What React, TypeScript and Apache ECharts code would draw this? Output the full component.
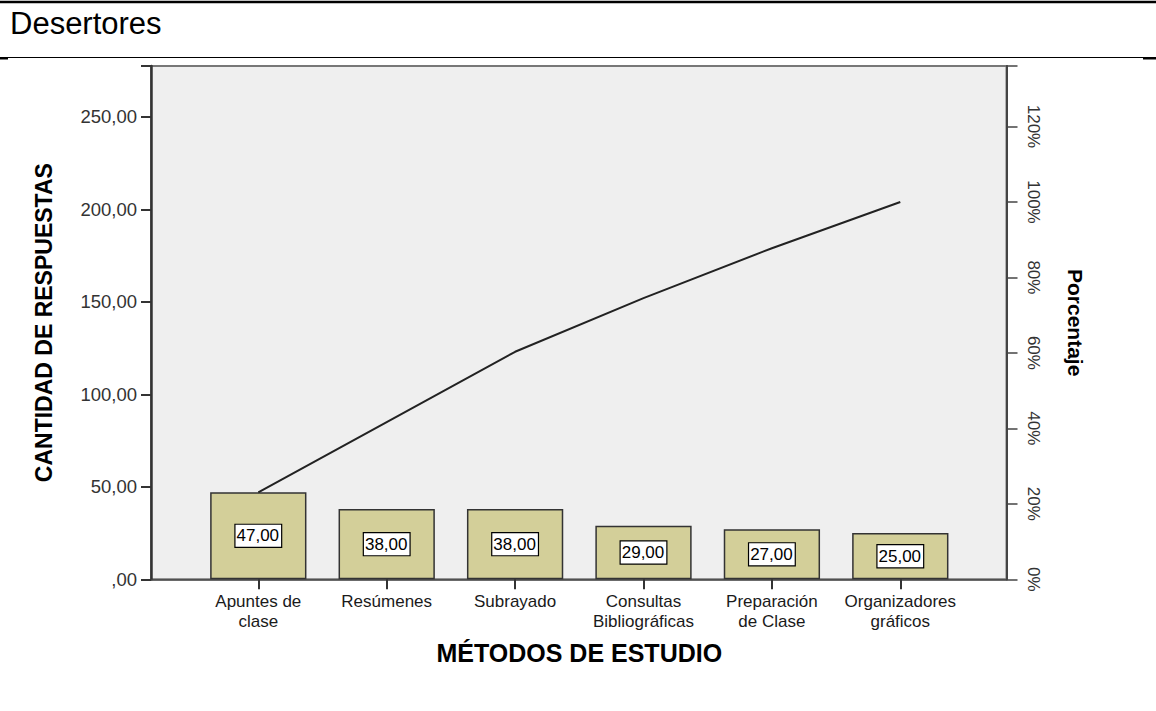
import React, { useEffect, useRef } from "react";
import * as echarts from "echarts";

const title = "Desertores";
const categories = [
  "Apuntes de\nclase",
  "Resúmenes",
  "Subrayado",
  "Consultas\nBibliográficas",
  "Preparación\nde Clase",
  "Organizadores\ngráficos",
];
const counts = [47, 38, 38, 29, 27, 25];
const countTicks = [0, 50, 100, 150, 200, 250];
const pctTicks = [0, 20, 40, 60, 80, 100, 120];
const countMax = 277.5;
const yName = "CANTIDAD DE RESPUESTAS";
const y2Name = "Porcentaje";
const xName = "MÉTODOS DE ESTUDIO";

const total = counts.reduce((a, b) => a + b, 0);
const cumulative: number[] = [];
counts.reduce((acc, v) => {
  const s = acc + v;
  cumulative.push(s);
  return s;
}, 0);
const pctMax = (countMax / total) * 100;

const fmt = (v: number) => {
  const s = v.toFixed(2).replace(".", ",");
  return s.startsWith("0,") ? s.slice(1) : s;
};

const FONT = "Liberation Sans, Arial, sans-serif";

export default function App() {
  const ref = useRef<HTMLDivElement>(null);
  useEffect(() => {
    if (!ref.current) return;
    const chart = echarts.init(ref.current, null, { renderer: "svg" });
    const gridTop = 66;
    const gridBottom = 711 - 579.3;
    chart.setOption({
      animation: false,
      backgroundColor: "#ffffff",
      textStyle: { fontFamily: FONT },
      grid: [
        {
          left: 151,
          right: 1156 - 1006.5,
          top: gridTop,
          bottom: gridBottom,
          show: true,
          backgroundColor: "#efefef",
          borderColor: "#777777",
          borderWidth: 2,
          containLabel: false,
        },
        {
          left: 194.1,
          right: 1156 - 964.5,
          top: gridTop,
          bottom: gridBottom,
          containLabel: false,
        },
      ],
      xAxis: [
        {
          type: "value",
          gridIndex: 0,
          min: 0,
          max: 1,
          axisLine: { show: true, lineStyle: { color: "#444", width: 1.5 } },
          axisTick: { show: false },
          axisLabel: { show: false },
          splitLine: { show: false },
        },
        {
          type: "category",
          gridIndex: 1,
          data: categories,
          boundaryGap: true,
          axisLine: { show: false },
          axisTick: {
            show: true,
            alignWithLabel: true,
            length: 10,
            lineStyle: { color: "#333", width: 2 },
          },
          axisLabel: {
            interval: 0,
            margin: 12,
            fontSize: 17,
            lineHeight: 20,
            color: "#1a1a1a",
            fontFamily: FONT,
          },
          name: xName,
          nameLocation: "middle",
          nameGap: 61,
          nameTextStyle: {
            fontSize: 25,
            fontWeight: "bold",
            color: "#000",
            fontFamily: FONT,
          },
        },
      ],
      yAxis: [
        {
          type: "value",
          gridIndex: 0,
          position: "left",
          min: 0,
          max: countMax,
          interval: 50,
          axisLine: { show: true, lineStyle: { color: "#333", width: 2.5 } },
          axisTick: { show: true, length: 10, lineStyle: { color: "#333", width: 2 } },
          axisLabel: {
            margin: 14,
            fontSize: 18.5,
            color: "#333",
            fontFamily: FONT,
            formatter: (v: number) => (countTicks.includes(v) ? fmt(v) : ""),
          },
          splitLine: { show: false },
          name: yName,
          nameLocation: "middle",
          nameGap: 96,
          nameRotate: 90,
          nameTextStyle: {
            fontSize: 23,
            fontWeight: "bold",
            color: "#000",
            fontFamily: FONT,
          },
        },
        {
          type: "value",
          gridIndex: 0,
          position: "right",
          min: 0,
          max: pctMax,
          interval: 20,
          axisLine: { show: true, lineStyle: { color: "#444", width: 2 } },
          axisTick: { show: true, length: 11, lineStyle: { color: "#444", width: 1.5 } },
          axisLabel: {
            margin: 18,
            rotate: -90,
            fontSize: 17,
            color: "#333",
            fontFamily: FONT,
            formatter: (v: number) => (pctTicks.includes(v) ? v + "%" : ""),
          },
          splitLine: { show: false },
          name: y2Name,
          nameLocation: "middle",
          nameGap: 58,
          nameRotate: -90,
          nameTextStyle: {
            fontSize: 21,
            fontWeight: "bold",
            color: "#000",
            fontFamily: FONT,
          },
        },
        {
          type: "value",
          gridIndex: 1,
          min: 0,
          max: countMax,
          show: false,
          splitLine: { show: false },
        },
      ],
      series: [
        {
          type: "bar",
          xAxisIndex: 1,
          yAxisIndex: 2,
          data: counts,
          barWidth: "75%",
          itemStyle: {
            color: "#d3cf99",
            borderColor: "#333",
            borderWidth: 1.5,
          },
          label: {
            show: true,
            position: "inside",
            formatter: (p: any) => fmt(p.value),
            fontSize: 17,
            color: "#000",
            fontFamily: FONT,
            backgroundColor: "#ffffff",
            borderColor: "#000",
            borderWidth: 1.2,
            padding: [3, 2, 2, 1],
          },
          z: 3,
        },
        {
          type: "line",
          xAxisIndex: 1,
          yAxisIndex: 2,
          data: cumulative,
          symbol: "none",
          lineStyle: { color: "#222", width: 2 },
          z: 4,
        },
      ],
      graphic: [
        {
          type: "line",
          shape: { x1: 0, y1: 2, x2: 1156, y2: 2 },
          style: { stroke: "#000", lineWidth: 2.5 },
        },
        {
          type: "line",
          shape: { x1: 0, y1: 57.5, x2: 1156, y2: 57.5 },
          style: { stroke: "#000", lineWidth: 1 },
        },
        {
          type: "line",
          shape: { x1: 0, y1: 58.5, x2: 8, y2: 58.5 },
          style: { stroke: "#000", lineWidth: 2 },
        },
        {
          type: "line",
          shape: { x1: 1143, y1: 58.5, x2: 1156, y2: 58.5 },
          style: { stroke: "#000", lineWidth: 2 },
        },
        {
          type: "text",
          left: 10,
          top: 8,
          style: {
            text: title,
            fontSize: 31,
            fontFamily: FONT,
            fill: "#000",
          },
        },
      ],
    });
    return () => chart.dispose();
  }, []);
  return (
    <div
      ref={ref}
      style={{ position: "fixed", left: 0, top: 0, width: 1156, height: 711 }}
    />
  );
}
